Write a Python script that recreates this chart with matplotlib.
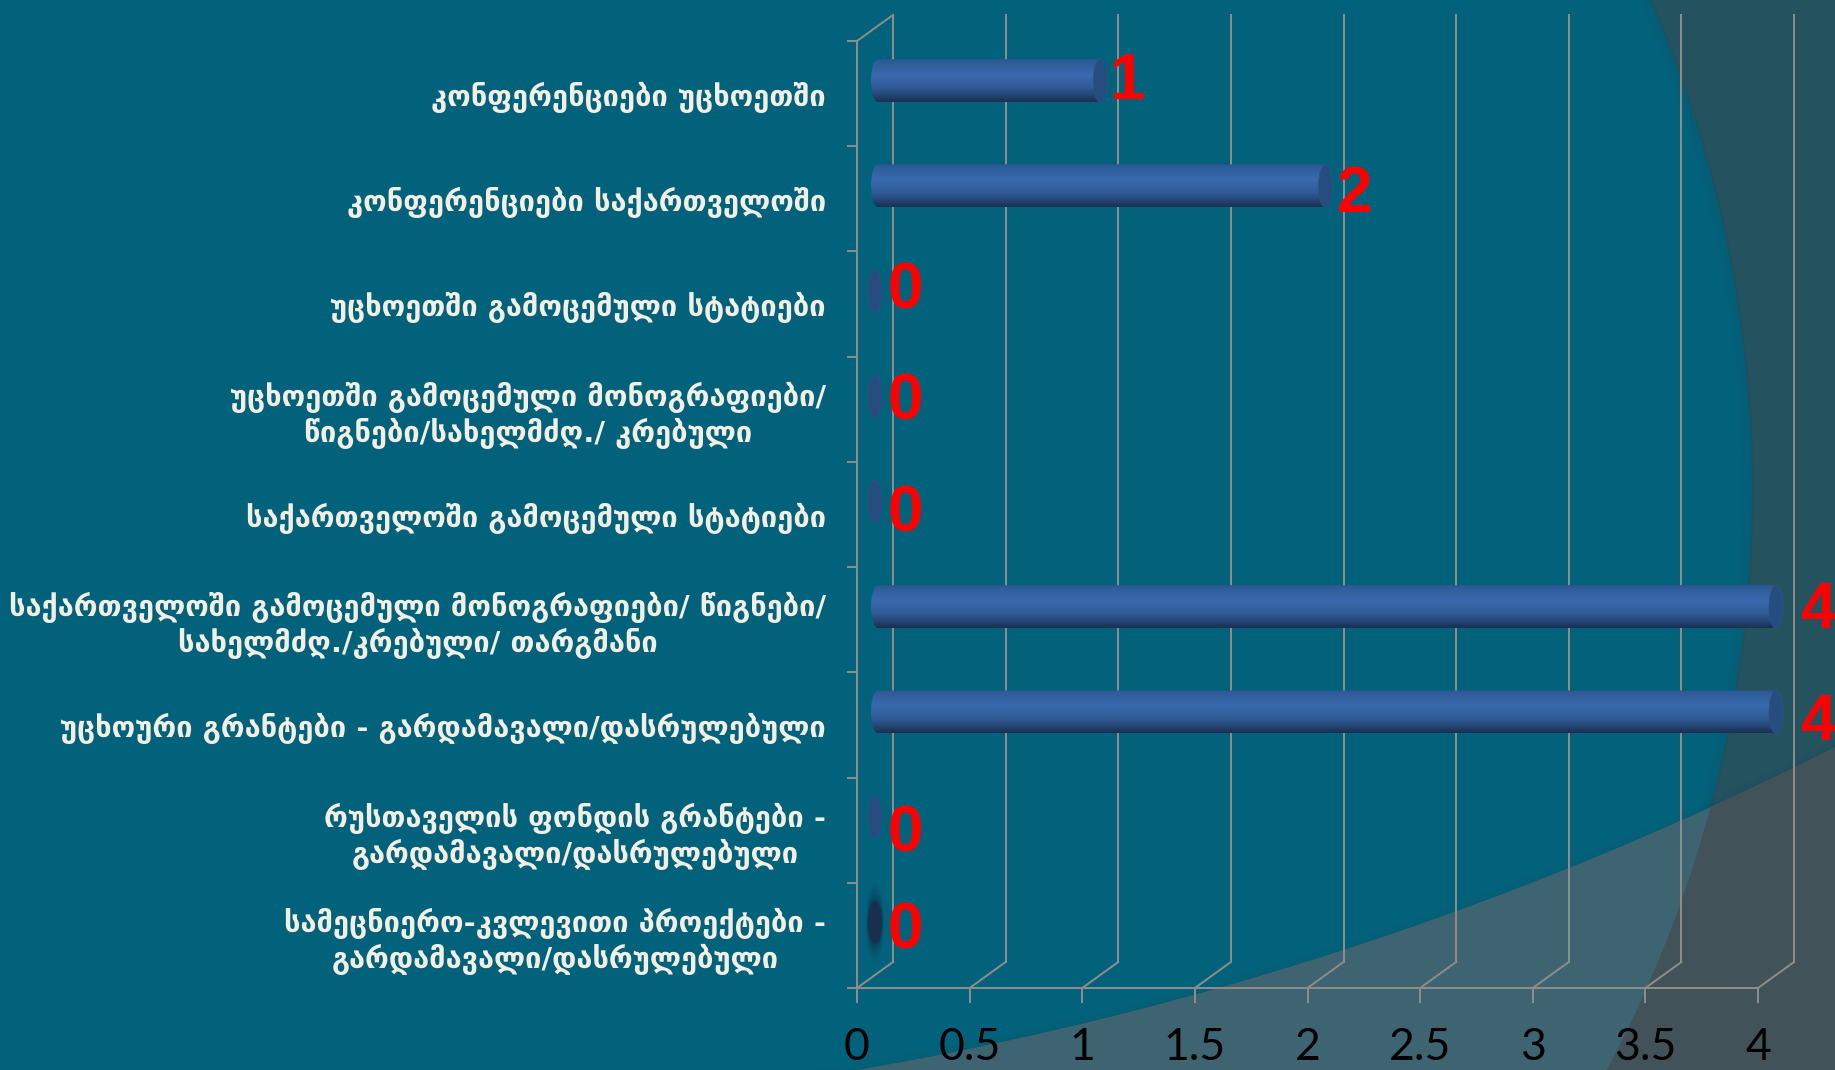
import numpy as np
import matplotlib
matplotlib.use('Agg')
import matplotlib.pyplot as plt
from matplotlib.colors import LinearSegmentedColormap
from matplotlib.patches import Ellipse, Polygon

categories = [
    'კონფერენციები უცხოეთში',
    'კონფერენციები საქართველოში',
    'უცხოეთში გამოცემული სტატიები',
    'უცხოეთში გამოცემული მონოგრაფიები/\nწიგნები/სახელმძღ./ კრებული',
    'საქართველოში გამოცემული სტატიები',
    'საქართველოში გამოცემული მონოგრაფიები/ წიგნები/\nსახელმძღ./კრებული/ თარგმანი',
    'უცხოური გრანტები - გარდამავალი/დასრულებული',
    'რუსთაველის ფონდის გრანტები -\nგარდამავალი/დასრულებული',
    'სამეცნიერო-კვლევითი პროექტები -\nგარდამავალი/დასრულებული',
]
values = [1, 2, 0, 0, 0, 4, 4, 0, 0]
x_ticks = [0, 0.5, 1, 1.5, 2, 2.5, 3, 3.5, 4]
x_tick_labels = ['0', '0.5', '1', '1.5', '2', '2.5', '3', '3.5', '4']

W, H = 1835, 1070
TEAL = '#03627B'
DARK = '#25525F'
LOWER = '#3D6470'
LOWER_DARK = '#415358'
GRID = '#8C8C88'
PX = 72 / 100  # one pixel in points at dpi 100

# hand placed data labels, in pixels from the bar position
label_dx = [46, 47, 48, 48, 48, 61, 61, 48, 48]
label_dy = [18, 10, 19, 13, 7, 15, 8, 2, 10]


def arc_points(cx, cy, r, x0, x1):
    # lower side of a big circle, in pixels from the top left
    x = np.linspace(x0, x1, 300)
    return x, cy + np.sqrt(r ** 2 - (x - cx) ** 2)


def draw_background(fig):
    bg = fig.add_axes([0, 0, 1, 1], zorder=-1)
    bg.set_xlim(0, W)
    bg.set_ylim(H, 0)
    bg.axis('off')
    bg.add_patch(Polygon([(0, 0), (W, 0), (W, H), (0, H)], color=DARK, lw=0))

    # big circle in the middle keeps the teal
    circle = plt.Circle((522, 490), 1230, color=TEAL, lw=0)
    bg.add_patch(circle)
    for grow, alpha in [(0, 0.10), (-3, 0.08), (-6, 0.06), (-9, 0.04)]:
        bg.add_patch(plt.Circle((522, 490), 1230 + grow, fill=False, ec='#123B4A',
                                lw=3 * PX, alpha=alpha))

    # lower wedge
    x, y = arc_points(270, -2353, 3473, 780, W)
    verts = np.column_stack([x, y])
    verts = np.vstack([verts, [W, H], [780, H]])
    lower = Polygon(verts, color=LOWER, lw=0, zorder=3)
    bg.add_patch(lower)
    for grow, alpha in [(0, 0.10), (-3, 0.07), (-6, 0.04)]:
        xs, ys = arc_points(270, -2353, 3473 + grow, 780, W)
        bg.plot(xs, ys, color='#123B4A', lw=3 * PX, alpha=alpha, zorder=2.5)

    # where the wedge is outside of the circle
    t = np.linspace(-0.6, 0.6, 300)
    cx = 522 + 1230 * np.cos(t)
    cy = 490 + 1230 * np.sin(t)
    outer = np.column_stack([cx, cy])
    outer = np.vstack([outer, [W + 50, cy[-1]], [W + 50, cy[0]]])
    over = Polygon(outer, color=LOWER_DARK, lw=0, zorder=4)
    bg.add_patch(over)
    over.set_clip_path(lower)
    bg.set_xlim(0, W)
    bg.set_ylim(H, 0)


def draw_cylinder(ax, cmap, fig, value, center, depth_x, half_h, cap_w):
    x0 = depth_x + 3 / 225.25
    x1 = value + depth_x
    t = np.linspace(-np.pi / 2, np.pi / 2, 60)
    right = np.column_stack([x1 + cap_w * np.cos(t), center + half_h * np.sin(t)])
    left = np.column_stack([x0 - cap_w * np.cos(t[::-1]), center + half_h * np.sin(t[::-1])])
    body = Polygon(np.vstack([right, left]), transform=ax.transData, fc='none', ec='none')
    ax.add_patch(body)
    grad = np.linspace(0, 1, 256).reshape(-1, 1)
    im = ax.imshow(grad, cmap=cmap, aspect='auto', zorder=3,
                   extent=[x0 - cap_w, x1 + cap_w, center + half_h, center - half_h])
    im.set_clip_box(fig.bbox)
    im.set_clip_path(body)
    ax.add_patch(Ellipse((x1, center), cap_w * 2, half_h * 2, fc='#264C80', ec='#2B5489',
                         lw=0.5, zorder=4, clip_on=False))


def main():
    fig = plt.figure(figsize=(W / 100, H / 100), dpi=100, facecolor=TEAL)
    draw_background(fig)

    ax = fig.add_axes([857 / W, 1 - 988 / H, (1758 - 857) / W, (988 - 41) / H], zorder=1)
    ax.patch.set_visible(False)

    n = len(categories)
    depth_x = 36 / 225.25
    depth_y = 26 / 105.2
    half_h = 21.5 / 105.2
    cap_w = 7 / 225.25
    line_w = 2 * PX

    # walls of the fake 3d box
    for t in x_ticks:
        ax.plot([t, t + depth_x], [n, n - depth_y], color=GRID, lw=line_w, clip_on=False, zorder=1)
        ax.plot([t + depth_x, t + depth_x], [n - depth_y, -depth_y], color=GRID, lw=line_w,
                clip_on=False, zorder=1)
    ax.plot([0, depth_x], [0, -depth_y], color=GRID, lw=line_w, clip_on=False, zorder=1)

    cmap = LinearSegmentedColormap.from_list('bar', [
        (0.0, '#2B5489'), (0.08, '#2F5C99'), (0.38, '#386AAE'), (0.68, '#2F5A95'),
        (0.88, '#22406C'), (1.0, '#1A3050')])

    for i, v in enumerate(values):
        center = i + 0.5 - depth_y / 2
        if v > 0:
            draw_cylinder(ax, cmap, fig, v, center, depth_x / 2, half_h, cap_w)
        elif i == n - 1:
            # last one sits in a blurred shadow
            for grow, alpha in [(1.85, 0.10), (1.6, 0.14), (1.35, 0.20), (1.15, 0.25)]:
                ax.add_patch(Ellipse((depth_x / 2, center), cap_w * 2 * (0.6 + grow / 2.5), half_h * 2 * grow,
                                     fc='#0E2F48', ec='none', alpha=alpha, zorder=3))
            ax.add_patch(Ellipse((depth_x / 2, center), cap_w * 2, half_h * 2, fc='#182F50',
                                 ec='none', zorder=4))
        else:
            ax.add_patch(Ellipse((depth_x / 2, center), cap_w * 2, half_h * 2, fc='#264C80',
                                 ec='#2B5489', lw=0.5, zorder=4))
        ax.annotate(str(v), xy=(v, i + 0.5), xytext=(label_dx[i], label_dy[i]),
                    textcoords='offset pixels', color='#FF0000', fontsize=46, fontweight='bold',
                    family='Liberation Sans', ha='center', va='center_baseline',
                    annotation_clip=False, zorder=6)

    ax.set_xlim(0, 4)
    ax.set_ylim(n, 0)
    for side in ['top', 'right']:
        ax.spines[side].set_visible(False)
    for side in ['left', 'bottom']:
        ax.spines[side].set_color(GRID)
        ax.spines[side].set_linewidth(line_w)

    ax.set_xticks(x_ticks)
    ax.set_xticklabels(x_tick_labels, family='Lato', fontsize=32, color='black')
    ax.tick_params(axis='x', length=15 * PX, width=line_w, color=GRID, pad=24 * PX)

    # boundaries get the tick marks, the category names sit between them
    ax.set_yticks(np.arange(n + 1))
    ax.set_yticklabels([])
    ax.set_yticks(np.arange(n) + 0.5, minor=True)
    ax.set_yticklabels(categories, minor=True, family='DejaVu Sans', fontweight='bold', fontsize=20.9,
                       color='#F2EFE4', ma='center', linespacing=1.2)
    ax.tick_params(axis='y', which='major', length=10 * PX, width=line_w, color=GRID)
    ax.tick_params(axis='y', which='minor', length=0, pad=31 * PX)

    fig.savefig('out.png', dpi=100, facecolor=TEAL)


if __name__ == '__main__':
    main()
